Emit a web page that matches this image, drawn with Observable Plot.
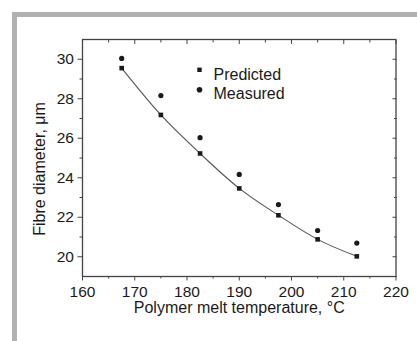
<!DOCTYPE html>
<html><head><meta charset="utf-8">
<script src="https://cdn.jsdelivr.net/npm/d3@7"></script>
<script src="https://cdn.jsdelivr.net/npm/@observablehq/plot@0.6"></script>
<style>
html,body{margin:0;padding:0;background:#fff;}
#wrap{position:relative;width:417px;height:341px;overflow:hidden;background:#fff;}
#frame{position:absolute;left:12px;top:12px;right:0;bottom:0;border-top:5px solid #b2b2b2;border-left:5px solid #b2b2b2;}
#chart{position:absolute;left:0;top:0;}
</style></head><body>
<div id="wrap"><div id="frame"></div><div id="chart"></div></div>
<script>
const temperatures = [167.5, 175, 182.5, 190, 197.5, 205, 212.5];
const predicted = [29.55, 27.18, 25.23, 23.46, 22.10, 20.88, 20.02];
const measured = [30.04, 28.16, 26.03, 24.17, 22.64, 21.33, 20.69];
const xMajor = [160, 170, 180, 190, 200, 210, 220];
const xMinor = [165, 175, 185, 195, 205, 215];
const yMajor = [20, 22, 24, 26, 28, 30];
const yMinor = [21, 23, 25, 27, 29];
const legendLabels = ["Predicted", "Measured"];
const legendSymbols = ["square", "circle"];
const xTitle = "Polymer melt temperature, °C";
const yTitle = "Fibre diameter, μm";

const rows = temperatures.map((t, i) => ({t, predicted: predicted[i], measured: measured[i]}));
const ink = "#1a1a1a";
const axisColor = "#444";

const legendMarks = legendLabels.flatMap((lab, i) => [
  Plot.dot([lab], {frameAnchor: "top-left", dx: 117, dy: 30.3 + 20 * i, symbol: legendSymbols[i], r: i === 0 ? 2.5 : 2.8, fill: ink}),
  Plot.text([lab], {text: d => d, frameAnchor: "top-left", dx: 131, dy: 28.7 + 19.6 * i, textAnchor: "start", fontSize: 16, fill: ink})
]);

const chart = Plot.plot({
  width: 417,
  height: 341,
  marginLeft: 82,
  marginRight: 21.5,
  marginTop: 39,
  marginBottom: 65,
  style: {fontFamily: "'Liberation Sans', Arial, sans-serif", fontSize: "15.5px", color: ink, background: "transparent"},
  x: {domain: [160, 220], axis: null},
  y: {domain: [19, 31], axis: null},
  marks: [
    Plot.axisX(xMajor, {anchor: "bottom", tickSize: 4.5, tickPadding: 4.5, stroke: axisColor, fill: ink, label: null}),
    Plot.axisX(xMinor, {anchor: "bottom", tickSize: 2.5, stroke: axisColor, fill: "none", label: null}),
    Plot.axisX(xMajor, {anchor: "top", tickSize: -4, stroke: axisColor, fill: "none", label: null}),
    Plot.axisX(xMinor, {anchor: "top", tickSize: -2.5, stroke: axisColor, fill: "none", label: null}),
    Plot.axisY(yMajor, {anchor: "left", tickSize: 4.5, tickPadding: 4, stroke: axisColor, fill: ink, label: null}),
    Plot.axisY(yMinor, {anchor: "left", tickSize: 2.5, stroke: axisColor, fill: "none", label: null}),
    Plot.axisY(yMajor, {anchor: "right", tickSize: -4, stroke: axisColor, fill: "none", label: null}),
    Plot.axisY(yMinor, {anchor: "right", tickSize: -2.5, stroke: axisColor, fill: "none", label: null}),
    Plot.frame({stroke: axisColor, strokeWidth: 1.3}),
    Plot.line(rows, {x: "t", y: "predicted", curve: "natural", stroke: "#555", strokeWidth: 1.1}),
    Plot.dot(rows, {x: "t", y: "predicted", symbol: "square", r: 2.6, fill: ink}),
    Plot.dot(rows, {x: "t", y: "measured", symbol: "circle", r: 2.6, fill: ink}),
    ...legendMarks,
    Plot.text([xTitle], {text: d => d, frameAnchor: "bottom", dy: 36, fontSize: 16, fill: ink}),
    Plot.text([yTitle], {text: d => d, frameAnchor: "left", textAnchor: "middle", dx: -42.7, dy: 11, rotate: -90, fontSize: 16, fill: ink})
  ]
});
document.getElementById("chart").appendChild(chart);
</script>
</body></html>
